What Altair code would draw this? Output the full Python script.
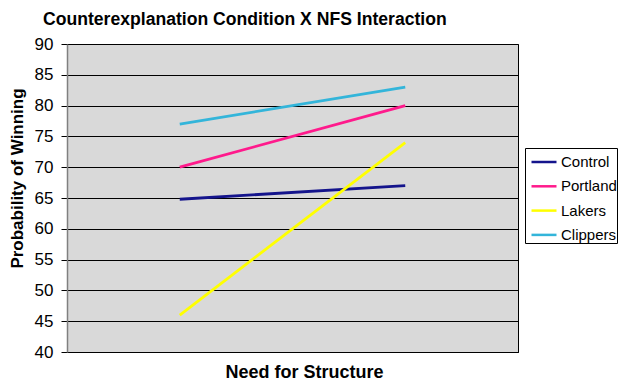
import altair as alt
import pandas as pd

series = ["Control", "Portland", "Lakers", "Clippers"]
low_nfs = [64.8, 70.0, 46.0, 77.0]
high_nfs = [67.0, 80.0, 74.0, 83.0]
positions = [1, 3]
colors = ["#14148C", "#FF1A8C", "#FFFF00", "#33B5DA"]
y_ticks = [40, 45, 50, 55, 60, 65, 70, 75, 80, 85, 90]

rows = []
for s, a, b in zip(series, low_nfs, high_nfs):
    rows.append({"series": s, "x": positions[0], "value": a})
    rows.append({"series": s, "x": positions[1], "value": b})
df = pd.DataFrame(rows)

FONT = "Liberation Sans"

chart = (
    alt.Chart(df)
    .mark_line(strokeWidth=2.8)
    .encode(
        x=alt.X(
            "x:Q",
            scale=alt.Scale(domain=[0, 4], nice=False, zero=False),
            axis=alt.Axis(
                title="Need for Structure",
                labels=False,
                ticks=False,
                grid=False,
                domainColor="black",
                titleFont=FONT,
                titleFontSize=18,
                titleFontWeight="bold",
                titleColor="black",
                titleX=237,
                titleY=25,
                titleBaseline="alphabetic",
            ),
        ),
        y=alt.Y(
            "value:Q",
            scale=alt.Scale(domain=[40, 90], nice=False, zero=False),
            axis=alt.Axis(
                title="Probability of Winning",
                values=y_ticks,
                grid=True,
                gridColor="black",
                gridWidth=1,
                gridOpacity=1,
                tickColor="black",
                tickSize=6,
                domainColor="#808080",
                domainWidth=1.5,
                labelFont=FONT,
                labelFontSize=17,
                labelColor="black",
                labelPadding=8,
                titleFont=FONT,
                titleFontSize=17,
                titleFontWeight="bold",
                titleColor="black",
                titleX=-45,
                titleY=134,
                titleBaseline="alphabetic",
            ),
        ),
        color=alt.Color(
            "series:N",
            scale=alt.Scale(domain=series, range=colors),
            legend=alt.Legend(
                title=None,
                orient="none",
                legendX=458,
                legendY=104,
                symbolType="stroke",
                symbolSize=625,
                symbolStrokeWidth=2.5,
                symbolOffset=5,
                labelFont=FONT,
                labelFontSize=15,
                labelColor="black",
                labelOffset=3,
                rowPadding=2.3,
                padding=0,
                strokeColor="black",
                fillColor="white",
                labelLimit=200,
            ),
        ),
    )
    .properties(
        width=451,
        height=308,
        autosize=alt.AutoSizeParams(type="none"),
        padding={"left": 59, "top": 36, "right": 103, "bottom": 29},
        title=alt.TitleParams(
            "Counterexplanation Condition X NFS Interaction",
            font=FONT,
            fontSize=17.6,
            fontWeight="bold",
            color="black",
            anchor="start",
            frame="group",
            dx=-24,
            dy=11,
            offset=17,
        ),
    )
    .configure_view(fill="#D9D9D9", stroke="black", strokeWidth=1)
)

chart.save("out.html", embed_options={"renderer": "svg", "actions": False})
